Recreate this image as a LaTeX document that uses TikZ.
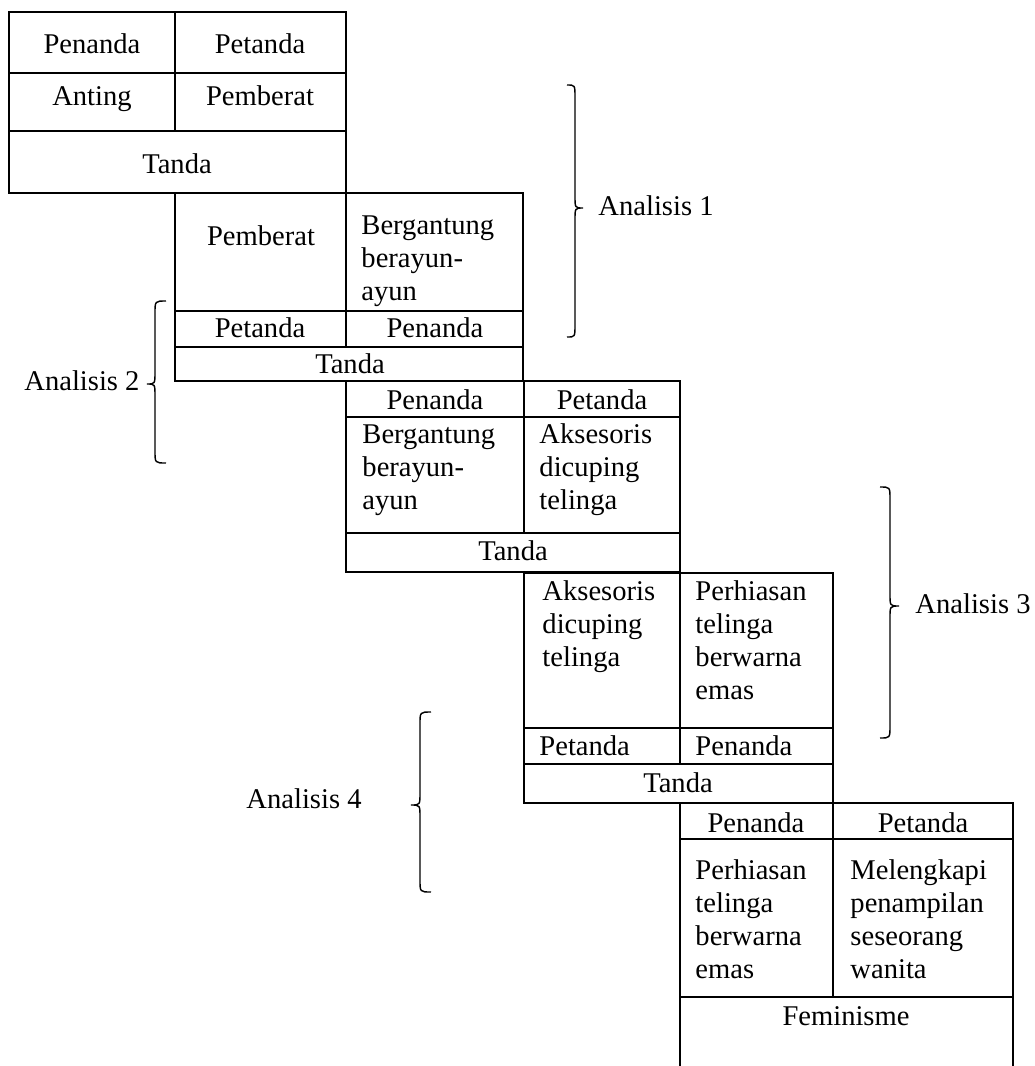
\documentclass[tikz,border=0pt]{standalone}
\usepackage{fontspec}
\setmainfont{Liberation Serif}
% curly brace: #1 end x, #2 spine x, #3 tip x, #4 top y, #5 tip y, #6 bottom y
\newcommand{\drawcurly}[6]{%
  \draw[curly] (#1,#4) .. controls (#2,#4) .. (#2,#4+12)
    -- (#2,#5-12) .. controls (#2,#5) .. (#3,#5)
    .. controls (#2,#5) .. (#2,#5+12)
    -- (#2,#6-12) .. controls (#2,#6) .. (#1,#6);}
\begin{document}
\begin{tikzpicture}[x=0.42pt,y=-0.42pt,
  grid/.style={line width=0.85pt, line cap=rect},
  curly/.style={line width=0.6pt},
  lbl/.style={inner sep=0pt, font=\fontsize{12pt}{13.86pt}\selectfont},
  mid/.style={lbl, anchor=base},
  % multi-line cells are placed by the baseline of their last line
  lft/.style={lbl, anchor=base west, align=left},
]
\useasboundingbox (0,0) rectangle (1035,1066);

% first step: Anting
\draw[grid] (9,12) rectangle (346,193);
\draw[grid] (9,73) -- (346,73) (9,131) -- (346,131) (175,12) -- (175,131);
\node[mid] (t1a) at (92,53) {Penanda};
\node[mid] (t1b) at (260,53) {Petanda};
\node[mid] (t1c) at (92,105) {Anting};
\node[mid] (t1d) at (260,105) {Pemberat};
\node[mid] (t1e) at (177,173) {Tanda};

% second step: Pemberat
\draw[grid] (175,193) rectangle (523,381);
\draw[grid] (175,311) -- (523,311) (175,347) -- (523,347) (346,193) -- (346,347);
\node[mid] (t2a) at (261,245) {Pemberat};
\node[lft] (t2b) at (361,300) {Bergantung\\berayun-\\ayun};
\node[mid] (t2c) at (260,337) {Petanda};
\node[mid] (t2d) at (435,337) {Penanda};
\node[mid] (t2e) at (350,373) {Tanda};

% third step: Bergantung berayun-ayun
\draw[grid] (346,381) rectangle (680,572);
\draw[grid] (346,417) -- (680,417) (346,533) -- (680,533) (524,381) -- (524,533);
\node[mid] (t3a) at (435,409) {Penanda};
\node[mid] (t3b) at (602,409) {Petanda};
\node[lft] (t3c) at (362,509) {Bergantung\\berayun-\\ayun};
\node[lft] (t3d) at (539,509) {Aksesoris\\dicuping\\telinga};
\node[mid] (t3e) at (513,560) {Tanda};

% fourth step: Aksesoris dicuping telinga
\draw[grid] (524,573) rectangle (833,803);
\draw[grid] (524,728) -- (833,728) (524,764) -- (833,764) (680,573) -- (680,764);
\node[lft] (t4a) at (542,666) {Aksesoris\\dicuping\\telinga};
\node[lft] (t4b) at (695,699) {Perhiasan\\telinga\\berwarna\\emas};
\node[lft] (t4c) at (539,755) {Petanda};
\node[lft] (t4d) at (695,755) {Penanda};
\node[mid] (t4e) at (678,792) {Tanda};

% fifth step: Perhiasan telinga berwarna emas (open at the bottom)
\draw[grid] (680,1066) -- (680,803) -- (1013,803) -- (1013,1066);
\draw[grid] (680,839) -- (1013,839) (680,997) -- (1013,997) (833,803) -- (833,997);
\node[mid] (t5a) at (756,832) {Penanda};
\node[mid] (t5b) at (923,832) {Petanda};
\node[lft] (t5c) at (695,978) {Perhiasan\\telinga\\berwarna\\emas};
\node[lft] (t5d) at (850,978) {Melengkapi\\penampilan\\seseorang\\wanita};
\node[mid] (t5e) at (846,1025) {Feminisme};

% braces grouping the steps
\drawcurly{567}{575}{583}{85}{208}{337}
\node[lbl, anchor=base west] (an1) at (598,215) {Analisis 1};
\drawcurly{166}{155}{147}{301}{384}{463}
\node[lbl, anchor=base east] (an2) at (140,390) {Analisis 2};
\drawcurly{880}{890}{899}{487}{606}{738}
\node[lbl, anchor=base west] (an3) at (915,613) {Analisis 3};
\drawcurly{431}{420}{411}{712}{805}{892}
\node[lbl, anchor=base west] (an4) at (246,808) {Analisis 4};
\end{tikzpicture}
\end{document}
